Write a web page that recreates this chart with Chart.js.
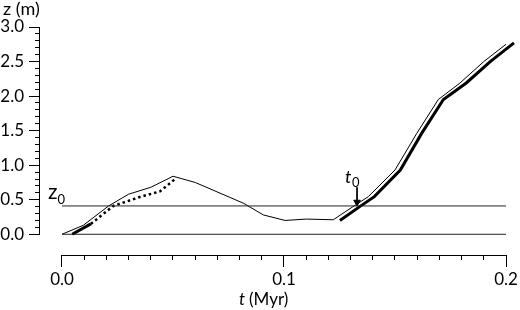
<!DOCTYPE html>
<html>
<head>
<meta charset="utf-8">
<script src="https://cdn.jsdelivr.net/npm/chart.js@4.4.1/dist/chart.umd.min.js"></script>
<style>
  html, body { margin: 0; padding: 0; background: #fff; }
</style>
</head>
<body>
<canvas id="zChart" width="520" height="310"></canvas>
<script>
const FONT = 'Lato, "Open Sans", sans-serif';

// axis ranges (x starts a bit left of 0 so the y axis sits apart from the data)
const X_LEFT = -0.01036, X_MAX = 0.2;
const Y_BOTTOM = -0.3, Y_MAX = 3.0;

// tick values
const xMajor = [0, 0.1, 0.2];
const xLabels = ['0.0', '0.1', '0.2'];
const yMajor = [0, 0.5, 1.0, 1.5, 2.0, 2.5, 3.0];
const xMinorStep = 0.01, yMinorStep = 0.1;

// reference levels
const baseT = [0, 0.2];
const z0 = 0.41;

// thin line
const thinT = [0, 0.0096, 0.021, 0.030, 0.040, 0.0500, 0.060, 0.0817, 0.0907, 0.1005, 0.110, 0.1222, 0.1311, 0.138, 0.150, 0.1598, 0.1695, 0.1793, 0.190, 0.2000];
const thinZ = [0, 0.13, 0.41, 0.58, 0.68, 0.84, 0.75, 0.45, 0.28, 0.20, 0.22, 0.21, 0.40, 0.545, 0.93, 1.46, 1.95, 2.19, 2.50, 2.75];

// thick left segment (solid start, then dotted)
const solidLeftT = [0.0046, 0.0130];
const solidLeftZ = [0.0, 0.15];
const dotLeftT = [0.0130, 0.0231, 0.0351, 0.0441, 0.0510];
const dotLeftZ = [0.15, 0.41, 0.54, 0.62, 0.80];

// thick right segment
const thickT = [0.1252, 0.1341, 0.1407, 0.1524, 0.1620, 0.1718, 0.1821, 0.1929, 0.2036];
const thickZ = [0.20, 0.40, 0.545, 0.93, 1.46, 1.95, 2.19, 2.50, 2.77];

// t0 arrow
const arrowT = [0.1329, 0.1329];
const arrowZ = [0.68, 0.465];

const toPts = (ts, zs) => ts.map((t, i) => ({ x: t, y: zs[i] }));
const isMajor = (v, list) => list.some(m => Math.abs(m - v) < 1e-6);
const crisp = p => Math.round(p - 0.5) + 0.5;

// axis lines over the labelled range, minor ticks, and the text labels
const axisAndLabels = {
  id: 'axisAndLabels',
  afterDraw(chart) {
    const { ctx, chartArea, scales: { x, y } } = chart;
    ctx.save();
    ctx.strokeStyle = '#000';
    ctx.lineWidth = 1;
    ctx.beginPath();
    const ax = Math.round(chartArea.left) + 0.5;
    const ay = Math.round(chartArea.bottom) + 0.5;
    ctx.moveTo(ax, crisp(y.getPixelForValue(0)) + 0.5);
    ctx.lineTo(ax, crisp(y.getPixelForValue(Y_MAX)) - 0.5);
    ctx.moveTo(crisp(x.getPixelForValue(0)) - 0.5, ay);
    ctx.lineTo(crisp(x.getPixelForValue(X_MAX)) + 0.5, ay);

    // minor ticks
    for (let v = 0; v <= Y_MAX + 1e-9; v += yMinorStep) {
      if (isMajor(v, yMajor)) continue;
      const py = crisp(y.getPixelForValue(v));
      ctx.moveTo(ax - 4.5, py);
      ctx.lineTo(ax, py);
    }
    for (let v = 0; v <= X_MAX + 1e-9; v += xMinorStep) {
      if (isMajor(v, xMajor)) continue;
      const px = crisp(x.getPixelForValue(v));
      ctx.moveTo(px, ay);
      ctx.lineTo(px, ay + 4.5);
    }
    ctx.stroke();

    ctx.fillStyle = '#000';
    ctx.textAlign = 'left';
    ctx.textBaseline = 'alphabetic';

    // y title
    ctx.font = '18px ' + FONT;
    ctx.fillText('z (m)', 3, chartArea.top - 12);

    // x title
    const tx = 239, ty = chartArea.bottom + 50;
    ctx.font = 'italic 17px ' + FONT;
    ctx.fillText('t', tx, ty);
    const tw = ctx.measureText('t ').width;
    ctx.font = '17px ' + FONT;
    ctx.fillText('(Myr)', tx + tw, ty);

    // z0 label
    const zx = x.getPixelForValue(0) - 14, zy = y.getPixelForValue(z0) - 6.5;
    ctx.font = '21px ' + FONT;
    ctx.fillText('z', zx, zy);
    const zw = ctx.measureText('z').width;
    ctx.font = '13px ' + FONT;
    ctx.fillText('0', zx + zw, zy + 5);

    // t0 label
    const sx = x.getPixelForValue(arrowT[0]) - 12, sy = y.getPixelForValue(arrowZ[0]) - 4;
    ctx.font = 'italic 18px ' + FONT;
    ctx.fillText('t', sx, sy);
    ctx.font = '13px ' + FONT;
    ctx.fillText('0', sx + 7, sy + 4);
    ctx.restore();
  }
};

const lineDs = (data, extra) => Object.assign({
  data,
  showLine: true,
  borderColor: '#000',
  backgroundColor: '#000',
  borderWidth: 1,
  pointRadius: 0,
  tension: 0,
  clip: false
}, extra);

new Chart(document.getElementById('zChart').getContext('2d'), {
  type: 'scatter',
  data: {
    datasets: [
      lineDs(toPts(baseT, [0, 0]), { borderColor: '#222' }),
      lineDs(toPts(baseT, [z0, z0]), { borderColor: '#222' }),
      lineDs(toPts(thinT, thinZ)),
      lineDs(toPts(solidLeftT, solidLeftZ), { borderWidth: 3 }),
      lineDs(toPts(dotLeftT, dotLeftZ), { borderWidth: 2.5, borderDash: [2.5, 3] }),
      lineDs(toPts(thickT, thickZ), { borderWidth: 3 }),
      lineDs(toPts(arrowT, arrowZ), {
        pointRadius: [0, 3.8],
        pointStyle: 'triangle',
        rotation: 180
      })
    ]
  },
  options: {
    responsive: false,
    animation: false,
    devicePixelRatio: 1,
    layout: { padding: { top: 27, right: 14, left: 0, bottom: 0 } },
    plugins: {
      legend: { display: false },
      tooltip: { enabled: false }
    },
    scales: {
      x: {
        type: 'linear',
        min: X_LEFT,
        max: X_MAX,
        afterBuildTicks: s => { s.ticks = xMajor.map(v => ({ value: v })); },
        afterFit: s => { s.height = 55; },
        border: { display: false },
        grid: {
          drawOnChartArea: false,
          tickLength: 12,
          tickColor: '#000',
          tickWidth: 1
        },
        ticks: {
          autoSkip: false,
          maxRotation: 0,
          padding: 2,
          color: '#000',
          font: { family: FONT, size: 17 },
          callback: (v, i) => xLabels[i]
        }
      },
      y: {
        type: 'linear',
        min: Y_BOTTOM,
        max: Y_MAX,
        afterBuildTicks: s => { s.ticks = yMajor.map(v => ({ value: v })); },
        afterFit: s => { s.width = 39; },
        border: { display: false },
        grid: {
          drawOnChartArea: false,
          tickLength: 10,
          tickColor: '#000',
          tickWidth: 1
        },
        ticks: {
          autoSkip: false,
          padding: 5,
          color: '#000',
          font: { family: FONT, size: 17 },
          callback: v => v.toFixed(1)
        }
      }
    }
  },
  plugins: [axisAndLabels]
});
</script>
</body>
</html>
